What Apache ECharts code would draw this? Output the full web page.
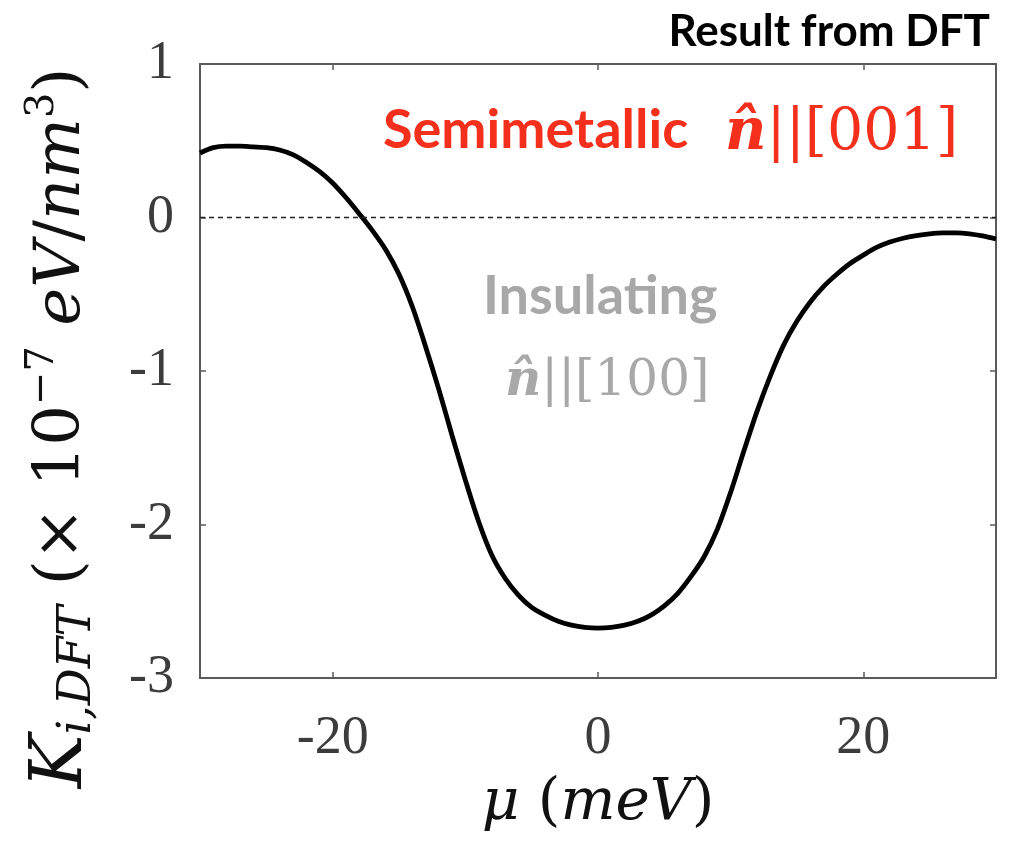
<!DOCTYPE html>
<html>
<head>
<meta charset="utf-8">
<script src="https://cdn.jsdelivr.net/npm/echarts@6/dist/echarts.min.js"></script>
<style>
  html, body { margin: 0; padding: 0; background: #ffffff; }
  #chart { width: 1018px; height: 844px; }
</style>
</head>
<body>
<div id="chart"></div>
<script>
// Chemical potential mu (meV)
const mu = [
  -30, -29, -28, -27, -26, -25, -24, -23, -22, -21,
  -20, -19, -18, -17, -16, -15, -14, -13, -12, -11,
  -10, -9, -8, -7, -6, -5, -4, -3, -2, -1,
  0, 1, 2, 3, 4, 5, 6, 7, 8, 9,
  10, 11, 12, 13, 14, 15, 16, 17, 18, 19,
  20, 21, 22, 23, 24, 25, 26, 27, 28, 29, 30
];
// Anisotropy constant K_i,DFT (x 1e-7 eV/nm^3)
const kDFT = [
  0.42, 0.455, 0.465, 0.465, 0.46, 0.455, 0.44, 0.41, 0.36, 0.30,
  0.225, 0.13, 0.025, -0.085, -0.21, -0.37, -0.58, -0.84, -1.12, -1.42,
  -1.71, -1.98, -2.20, -2.35, -2.46, -2.54, -2.59, -2.63, -2.655, -2.67,
  -2.675, -2.67, -2.655, -2.63, -2.59, -2.53, -2.45, -2.34, -2.21, -2.03,
  -1.79, -1.52, -1.26, -1.03, -0.83, -0.675, -0.55, -0.45, -0.37, -0.30,
  -0.245, -0.195, -0.16, -0.135, -0.118, -0.106, -0.10, -0.10, -0.106, -0.12, -0.14
];
const xTicks = [-20, 0, 20];

const serif = "'Liberation Serif', 'DejaVu Serif', serif";
const mathSerif = "'DejaVu Serif', 'Liberation Serif', serif";
const sans = "Lato, 'Open Sans', sans-serif";
const axisGrey = '#5a5a5a';
const labelGrey = '#3c3c3c';
const red = '#f4301c';
const grey = '#a8a8a8';

const chart = echarts.init(document.getElementById('chart'), null, { renderer: 'canvas' });

const frameLine = { show: true, onZero: false, lineStyle: { color: axisGrey, width: 2 } };
const frameTick = { show: true, inside: true, length: 6, lineStyle: { color: axisGrey, width: 1.5 } };

chart.setOption({
  animation: false,
  backgroundColor: '#ffffff',
  grid: { left: 200, right: 22, top: 64, bottom: 166, containLabel: false, outerBoundsMode: 'none' },
  xAxis: [
    {
      type: 'value', min: -30, max: 30, interval: 20,
      axisLine: frameLine,
      splitLine: { show: false },
      axisLabel: {
        show: true, margin: 34, fontFamily: serif, fontSize: 54, color: labelGrey,
        customValues: xTicks
      },
      axisTick: Object.assign({ customValues: xTicks }, frameTick),
      name: '{it|μ}{n| (}{it|meV}{n|)}',
      nameLocation: 'middle',
      nameGap: 97,
      nameTextStyle: {
        rich: {
          it: { fontFamily: mathSerif, fontStyle: 'italic', fontSize: 58, color: '#111' },
          n: { fontFamily: mathSerif, fontSize: 58, color: '#111' }
        }
      }
    },
    {
      type: 'value', position: 'top', min: -30, max: 30, interval: 20,
      axisLine: frameLine,
      splitLine: { show: false },
      axisLabel: { show: false },
      axisTick: Object.assign({ customValues: xTicks }, frameTick)
    }
  ],
  yAxis: [
    {
      type: 'value', min: -3, max: 1, interval: 1,
      axisLine: frameLine,
      axisTick: frameTick,
      splitLine: { show: false },
      axisLabel: {
        show: true, margin: 26, fontFamily: serif, fontSize: 54, color: labelGrey,
        formatter: v => String(v)
      }
    },
    {
      type: 'value', position: 'right', min: -3, max: 1, interval: 1,
      axisLine: frameLine,
      axisTick: frameTick,
      splitLine: { show: false },
      axisLabel: { show: false }
    }
  ],
  series: [
    {
      type: 'line',
      xAxisIndex: 0,
      yAxisIndex: 0,
      data: mu.map((m, i) => [m, kDFT[i]]),
      smooth: 0.3,
      showSymbol: false,
      lineStyle: { color: '#000000', width: 4.8 },
      markLine: {
        silent: true,
        symbol: 'none',
        label: { show: false },
        lineStyle: { color: '#222', type: [5, 4], width: 1.3 },
        data: [{ yAxis: 0 }]
      },
      z: 3
    }
  ],
  graphic: [
    {
      // vertical axis title
      type: 'text', x: 62, y: 428, rotation: Math.PI / 2,
      style: {
        text: '{k|K}{sub|i,DFT}{n| (× 10}{sup|−7}{it| eV}{n|/}{it|nm}{sup|3}{n|)}',
        align: 'center',
        verticalAlign: 'middle',
        lineHeight: 78,
        rich: {
          k: { fontFamily: mathSerif, fontStyle: 'italic', fontSize: 72, fill: '#111', lineHeight: 78 },
          sub: { fontFamily: mathSerif, fontStyle: 'italic', fontSize: 46, fill: '#111', verticalAlign: 'bottom', lineHeight: 48 },
          n: { fontFamily: mathSerif, fontSize: 64, fill: '#111', lineHeight: 78 },
          it: { fontFamily: mathSerif, fontStyle: 'italic', fontSize: 64, fill: '#111', lineHeight: 78 },
          sup: { fontFamily: mathSerif, fontSize: 40, fill: '#111', verticalAlign: 'top', lineHeight: 46 }
        }
      }
    },
    {
      type: 'text', right: 28, top: 10,
      style: { text: 'Result from DFT', font: "bold 44px " + sans, fill: '#000' }
    },
    {
      type: 'text', left: 383, top: 104,
      style: { text: 'Semimetallic', font: "bold 54px " + sans, fill: red }
    },
    {
      type: 'text', left: 725, top: 106,
      style: {
        text: '{b|n̂}{r|||[001]}',
        rich: {
          b: { fontFamily: mathSerif, fontWeight: 'bold', fontStyle: 'italic', fontSize: 57, fill: red },
          r: { fontFamily: mathSerif, fontSize: 57, fill: red }
        }
      }
    },
    {
      type: 'text', left: 483, top: 270,
      style: { text: 'Insulating', font: "bold 54px " + sans, fill: grey }
    },
    {
      type: 'text', left: 505, top: 357,
      style: {
        text: '{b|n̂}{r|||[100]}',
        rich: {
          b: { fontFamily: mathSerif, fontWeight: 'bold', fontStyle: 'italic', fontSize: 50, fill: grey },
          r: { fontFamily: mathSerif, fontSize: 50, fill: grey }
        }
      }
    }
  ]
});
</script>
</body>
</html>
